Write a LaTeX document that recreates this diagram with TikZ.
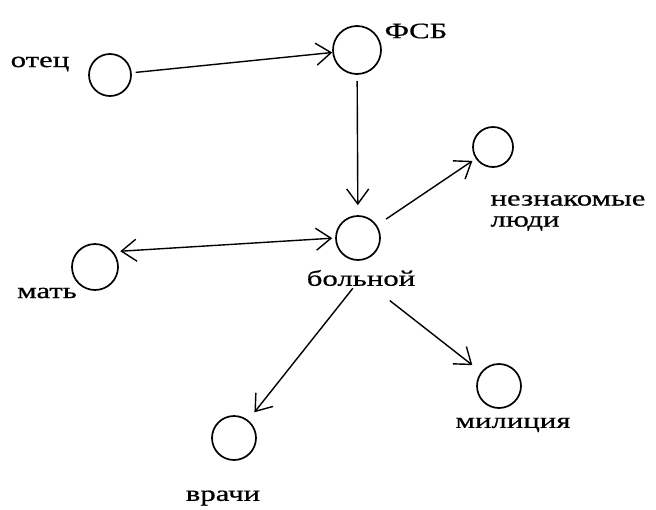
\documentclass[tikz,border=0pt]{standalone}
\usepackage{fontspec}
\usetikzlibrary{arrows.meta}
\newfontfamily\lblfont[FakeStretch=1.4,FakeBold=0.6]{Liberation Serif}

\begin{document}
\begin{tikzpicture}[x=1pt, y=-1pt,
    person/.style={circle, draw, line width=1.7pt, inner sep=0pt},
    lbl/.style={font=\lblfont\fontsize{22}{21}\selectfont, inner sep=2pt},
    arr/.style={-{Straight Barb[length=15pt,width=22pt]}, line width=1.4pt}]
    \useasboundingbox (0,0) rectangle (656,509);

    % circles
    \node[person, minimum size=42pt] (otec) at (110,75) {};
    \node[person, minimum size=48pt] (fsb) at (357,50) {};
    \node[person, minimum size=40pt] (nez) at (493,147) {};
    \node[person, minimum size=44pt] (bol) at (358,238) {};
    \node[person, minimum size=46pt] (mat) at (95,267) {};
    \node[person, minimum size=44pt] (vra) at (234,438) {};
    \node[person, minimum size=44pt] (mil) at (499,386) {};

    % labels
    \node[lbl] (lotec) at (40,64) {отец};
    \node[lbl] (lfsb) at (416,31) {ФСБ};
    \node[lbl, align=left] (lnez) at (568,213) {незнакомые\\люди};
    \node[lbl] (lbol) at (361,278) {больной};
    \node[lbl] (lmat) at (47,293) {мать};
    \node[lbl] (lvra) at (223,498) {врачи};
    \node[lbl] (lmil) at (513,425) {милиция};

    \draw[arr, shorten <=4pt] (otec) -- (fsb);
    \draw[arr, shorten <=6pt, shorten >=10pt] (fsb) -- (bol);
    \draw[arr, {Straight Barb[length=15pt,width=22pt]}-{Straight Barb[length=15pt,width=22pt]}, shorten <=7pt, shorten >=3pt] (mat.40) -- (bol.west);
    \draw[arr, shorten <=11pt, shorten >=4pt] (bol) -- (nez);
    \draw[arr, shorten >=10pt] (lbol) -- (vra);
    \draw[arr, shorten <=20pt, shorten >=11pt] (lbol) -- (mil);
\end{tikzpicture}
\end{document}
